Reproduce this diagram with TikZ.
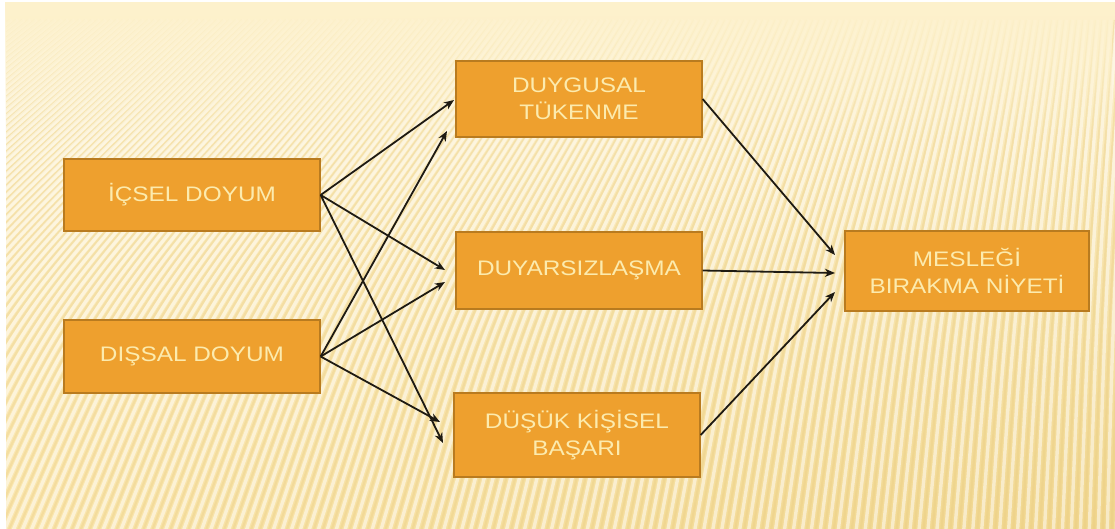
\documentclass[tikz,border=0pt]{standalone}
\usepackage{fontspec}
\setmainfont{Liberation Sans}[FakeStretch=1.16]
\usetikzlibrary{arrows.meta,fadings,shadings}

\definecolor{bgTop}{HTML}{FDF1CC}
\definecolor{bgLowL}{HTML}{FAE6AE}
\definecolor{bgLowR}{HTML}{F0D58C}
\definecolor{ribDark}{HTML}{E9CC80}
\definecolor{boxfill}{HTML}{EEA02E}
\definecolor{boxedge}{HTML}{B97B1F}
\definecolor{boxtext}{HTML}{FCEBAE}
\definecolor{linkcol}{HTML}{1E1A12}

\begin{document}
\begin{tikzpicture}[x=1pt,y=-1pt,
  box/.style={draw=boxedge, line width=1.3pt, fill=boxfill, text=boxtext,
    font=\fontsize{21}{27}\selectfont, align=center, inner sep=0pt},
  srcbox/.style={box, minimum width=256pt, minimum height=72pt},
  midbox/.style={box, minimum width=246pt, minimum height=77pt},
  link/.style={-{Stealth[length=10pt,width=8pt,inset=3pt]}, line width=1.8pt, draw=linkcol}]

% page and slide background
\useasboundingbox (0,0) rectangle (1115,528);
\fill[white] (0,0) rectangle (1115,528);
\shade[upper left=bgTop, upper right=bgTop, lower left=bgLowL, lower right=bgLowR]
  (6,2) rectangle (1115,528);

% fine ribbed texture
\begin{scope}
  \clip (6,2) rectangle (1115,528);
  \foreach \i in {-60,...,130} {
    \pgfmathsetmacro{\xb}{\i*9}
    \pgfmathsetmacro{\xt}{\xb + 0.55*(1180-\xb)*0.55}
    \pgfmathsetmacro{\xm}{\xb + 0.55*(1180-\xb)*0.16}
    \draw[white, line width=3.4pt, opacity=0.5]
      (\xb,540) .. controls (\xm,300) .. (\xt,20);
    \draw[ribDark, line width=2.2pt, opacity=0.35]
      (\xb+4.5,540) .. controls (\xm+4.5,300) .. (\xt+4.5,20);
  }
\end{scope}
\fill[bgTop, path fading=south] (6,2) rectangle (1115,140);
\fill[bgTop] (6,2) rectangle (1115,16);

% boxes
\node[srcbox] (ic)  at (192,195)   {İÇSEL DOYUM};
\node[srcbox, minimum height=73pt] (dis) at (192,356.5) {DIŞSAL DOYUM};
\node[midbox, minimum height=76pt] (duy) at (579,99)    {DUYGUSAL\\TÜKENME};
\node[midbox] (dsz) at (579,270.5) {DUYARSIZLAŞMA};
\node[midbox, minimum height=84pt] (dk)  at (577,435)   {DÜŞÜK KİŞİSEL\\BAŞARI};
\node[box, minimum width=244pt, minimum height=80pt] (mes) at (967,271) {MESLEĞİ\\BIRAKMA NİYETİ};

% arrow tips
\coordinate (duyA) at (454,100);
\coordinate (duyB) at (447,131);
\coordinate (dszA) at (445,270);
\coordinate (dszB) at (445,282);
\coordinate (dkA)  at (443,443);
\coordinate (dkB)  at (440,422);
\coordinate (mesA) at (835,255);
\coordinate (mesB) at (835,273);
\coordinate (mesC) at (835,292);

% connectors
\draw[link] (ic.east)  -- (duyA);
\draw[link] (ic.east)  -- (dszA);
\draw[link] (ic.east)  -- (dkA);
\draw[link] (dis.east) -- (duyB);
\draw[link] (dis.east) -- (dszB);
\draw[link] (dis.east) -- (dkB);
\draw[link] (duy.east) -- (mesA);
\draw[link] (dsz.east) -- (mesB);
\draw[link] (dk.east)  -- (mesC);
\end{tikzpicture}
\end{document}
